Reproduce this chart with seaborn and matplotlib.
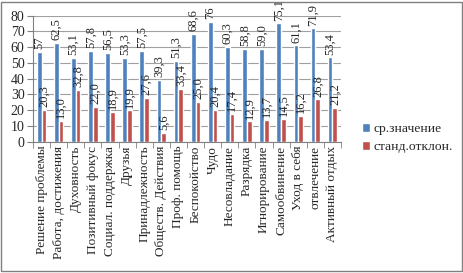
import matplotlib
matplotlib.use("Agg")
import matplotlib.pyplot as plt
import seaborn as sns
import pandas as pd
import numpy as np
from matplotlib.patches import Rectangle

# данные
categories = ["Решение проблемы", "Работа, достижения", "Духовность", "Позитивный фокус",
              "Социал. поддержка", "Друзья", "Принадлежность", "Обществ. Действия",
              "Проф. помощь", "Беспокойство", "Чудо", "Несовладание", "Разрядка",
              "Игнорирование", "Самообвинение", "Уход в себя", "отвлечение", "Активный отдых"]
mean_vals = [57, 62.5, 53.1, 57.8, 56.5, 53.3, 57.5, 39.3, 51.3,
             68.6, 76, 60.3, 58.8, 59.0, 75.1, 61.1, 71.9, 53.4]
sd_vals = [20.3, 13.0, 32.8, 22.0, 18.9, 19.9, 27.6, 5.6, 33.4,
           25.0, 20.4, 17.4, 12.9, 13.7, 14.5, 16.2, 26.8, 21.2]
mean_labels = ["57", "62,5", "53,1", "57,8", "56,5", "53,3", "57,5", "39,3", "51,3",
               "68,6", "76", "60,3", "58,8", "59,0", "75,1", "61,1", "71,9", "53,4"]
sd_labels = ["20,3", "13,0", "32,8", "22,0", "18,9", "19,9", "27,6", "5,6", "33,4",
             "25,0", "20,4", "17,4", "12,9", "13,7", "14,5", "16,2", "26,8", "21,2"]
series = ["ср.значение", "станд.отклон."]
colors = ["#4F81BD", "#C0504D"]

df = pd.DataFrame({
    "cat": categories * 2,
    "val": mean_vals + sd_vals,
    "series": [series[0]] * len(categories) + [series[1]] * len(categories),
})

sns.set_style("white")
plt.rcParams["font.family"] = ["Liberation Serif", "DejaVu Serif"]

fig = plt.figure(figsize=(4.64, 2.73), dpi=100)
ax = fig.add_axes([0.071, 0.481, 0.664, 0.462])

sns.barplot(data=df, x="cat", y="val", hue="series", palette=colors,
            width=0.55, ax=ax, saturation=1, legend=True)

for cont, labs in zip(ax.containers, [mean_labels, sd_labels]):
    ax.bar_label(cont, labels=labs, rotation=90, padding=2, fontsize=9, clip_on=False)

ax.set_ylim(0, 80)
ax.set_yticks(range(0, 81, 10))
ax.set_xlim(-0.5, len(categories) - 0.5)
ax.yaxis.grid(True, color="#a0a0a0", linewidth=0.8)
ax.set_axisbelow(True)
ax.set_xlabel("")
ax.set_ylabel("")
ax.tick_params(axis="y", labelsize=10, length=4, direction="out", left=True, color="#808080", pad=2)
ax.set_xticks(range(len(categories)))
ax.set_xticklabels(categories, rotation=90, fontsize=9.5)
ax.tick_params(axis="x", length=0, pad=3)
ax.set_xticks(np.arange(-0.5, len(categories), 1), minor=True)
ax.tick_params(axis="x", which="minor", length=4, direction="out", bottom=True, color="#808080")
for s in ["top", "right"]:
    ax.spines[s].set_visible(False)
ax.spines["left"].set_color("#808080")
ax.spines["bottom"].set_color("#808080")

ax.legend(loc="upper left", bbox_to_anchor=(1.05, 0.19), frameon=False, fontsize=9.7,
          handlelength=0.6, handleheight=0.6, handletextpad=0.3, labelspacing=0.45,
          borderaxespad=0)

fig.patches.append(Rectangle((0.003, 0.006), 0.992, 0.988, transform=fig.transFigure,
                             fill=False, edgecolor="#808080", linewidth=1))

fig.savefig("out.png", dpi=100)
